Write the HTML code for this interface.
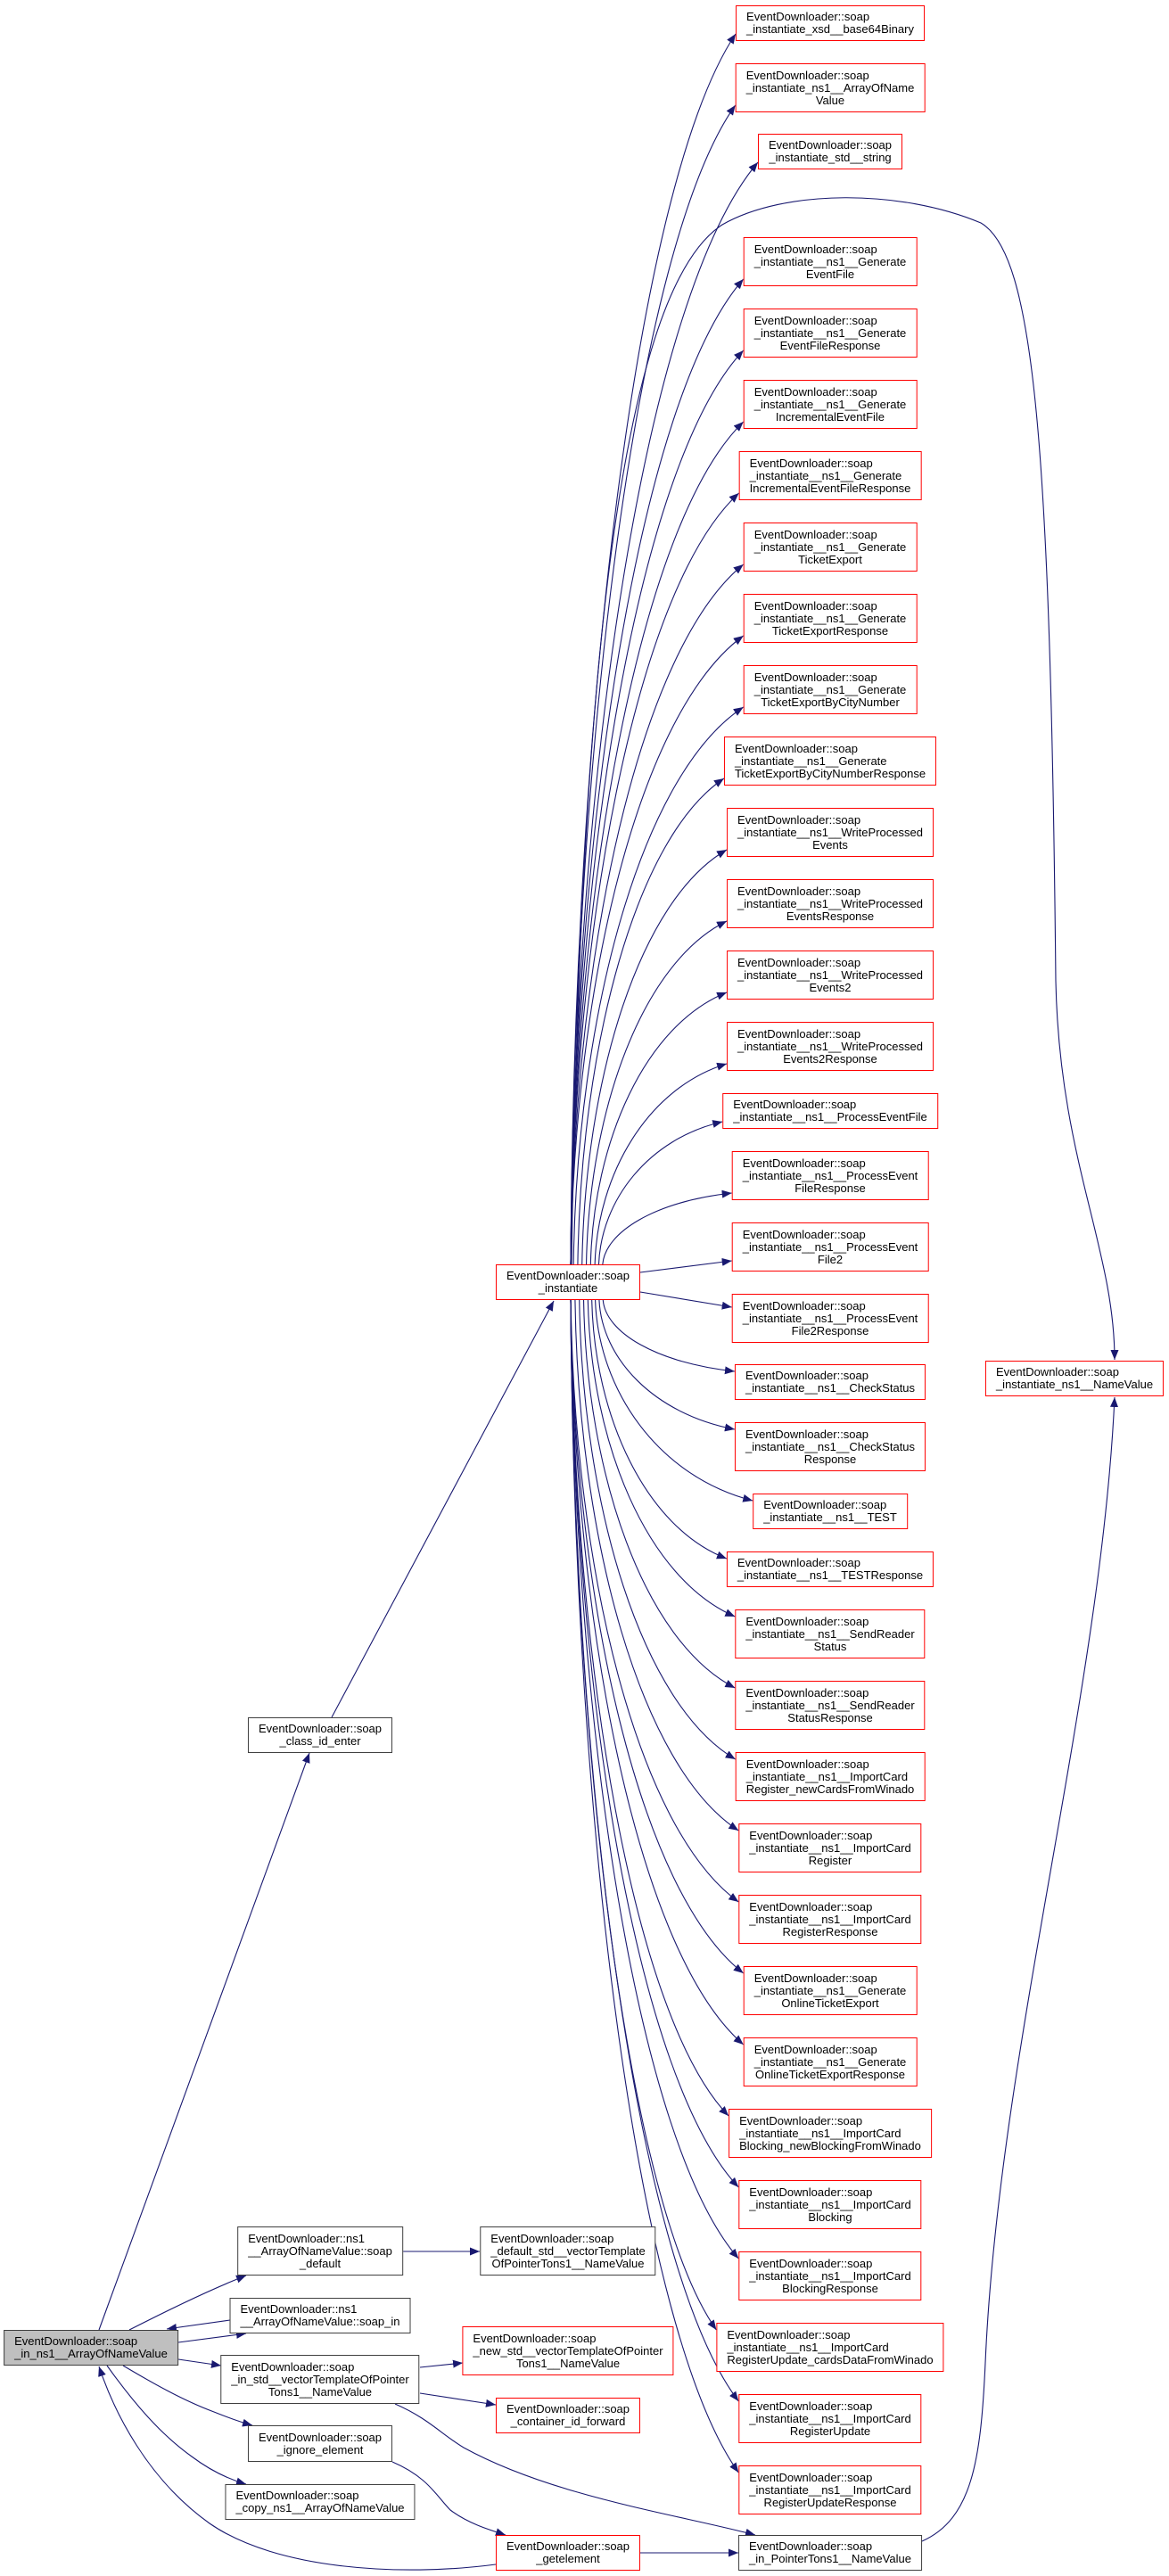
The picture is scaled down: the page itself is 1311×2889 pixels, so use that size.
<!DOCTYPE html>
<html><head><meta charset="utf-8">
<style>
html,body{margin:0;padding:0;background:#fff;}
body{width:1311px;height:2889px;position:relative;overflow:hidden;font-family:"Liberation Sans",Arial,sans-serif;font-size:13px;color:#000;}
.n{position:absolute;box-sizing:border-box;border:1px solid #ff0000;background:#fff;display:flex;align-items:center;justify-content:center;padding:0 11px;white-space:nowrap;transform:translateX(-50%);line-height:14px;}
.k{border-color:#404040;}
.g{background:#bfbfbf;border-color:#404040;}
.t{display:inline-block;text-align:left;}
.t div:last-child{text-align:center;}
svg{position:absolute;left:0;top:0;}
</style></head><body>
<svg id="sv" width="1311" height="2889" viewBox="0 0 1311 2889">
<defs><marker id="a" markerUnits="userSpaceOnUse" markerWidth="12" markerHeight="10" refX="11" refY="4.5" orient="auto"><path d="M0,0 L11,4.5 L0,9 z" fill="#191970"/></marker></defs>
<g id="eg" fill="none" stroke="#191970" stroke-width="1.1"></g>
</svg>

<!-- right column -->
<div class="n r" id="r1" style="left:931px;top:6px;height:40px"><div class="t"><div>EventDownloader::soap</div><div>_instantiate_xsd__base64Binary</div></div></div>
<div class="n r" id="r2" style="left:931px;top:71px;height:55px"><div class="t"><div>EventDownloader::soap</div><div>_instantiate_ns1__ArrayOfName</div><div>Value</div></div></div>
<div class="n r" id="r3" style="left:931px;top:150px;height:40px"><div class="t"><div>EventDownloader::soap</div><div>_instantiate_std__string</div></div></div>
<div class="n r" id="r4" style="left:931px;top:266px;height:55px"><div class="t"><div>EventDownloader::soap</div><div>_instantiate__ns1__Generate</div><div>EventFile</div></div></div>
<div class="n r" id="r5" style="left:931px;top:346px;height:55px"><div class="t"><div>EventDownloader::soap</div><div>_instantiate__ns1__Generate</div><div>EventFileResponse</div></div></div>
<div class="n r" id="r6" style="left:931px;top:426px;height:55px"><div class="t"><div>EventDownloader::soap</div><div>_instantiate__ns1__Generate</div><div>IncrementalEventFile</div></div></div>
<div class="n r" id="r7" style="left:931px;top:506px;height:55px"><div class="t"><div>EventDownloader::soap</div><div>_instantiate__ns1__Generate</div><div>IncrementalEventFileResponse</div></div></div>
<div class="n r" id="r8" style="left:931px;top:586px;height:55px"><div class="t"><div>EventDownloader::soap</div><div>_instantiate__ns1__Generate</div><div>TicketExport</div></div></div>
<div class="n r" id="r9" style="left:931px;top:666px;height:55px"><div class="t"><div>EventDownloader::soap</div><div>_instantiate__ns1__Generate</div><div>TicketExportResponse</div></div></div>
<div class="n r" id="r10" style="left:931px;top:746px;height:55px"><div class="t"><div>EventDownloader::soap</div><div>_instantiate__ns1__Generate</div><div>TicketExportByCityNumber</div></div></div>
<div class="n r" id="r11" style="left:931px;top:826px;height:55px"><div class="t"><div>EventDownloader::soap</div><div>_instantiate__ns1__Generate</div><div>TicketExportByCityNumberResponse</div></div></div>
<div class="n r" id="r12" style="left:931px;top:906px;height:55px"><div class="t"><div>EventDownloader::soap</div><div>_instantiate__ns1__WriteProcessed</div><div>Events</div></div></div>
<div class="n r" id="r13" style="left:931px;top:986px;height:55px"><div class="t"><div>EventDownloader::soap</div><div>_instantiate__ns1__WriteProcessed</div><div>EventsResponse</div></div></div>
<div class="n r" id="r14" style="left:931px;top:1066px;height:55px"><div class="t"><div>EventDownloader::soap</div><div>_instantiate__ns1__WriteProcessed</div><div>Events2</div></div></div>
<div class="n r" id="r15" style="left:931px;top:1146px;height:55px"><div class="t"><div>EventDownloader::soap</div><div>_instantiate__ns1__WriteProcessed</div><div>Events2Response</div></div></div>
<div class="n r" id="r16" style="left:931px;top:1226px;height:40px"><div class="t"><div>EventDownloader::soap</div><div>_instantiate__ns1__ProcessEventFile</div></div></div>
<div class="n r" id="r17" style="left:931px;top:1291px;height:55px"><div class="t"><div>EventDownloader::soap</div><div>_instantiate__ns1__ProcessEvent</div><div>FileResponse</div></div></div>
<div class="n r" id="r18" style="left:931px;top:1371px;height:55px"><div class="t"><div>EventDownloader::soap</div><div>_instantiate__ns1__ProcessEvent</div><div>File2</div></div></div>
<div class="n r" id="r19" style="left:931px;top:1451px;height:55px"><div class="t"><div>EventDownloader::soap</div><div>_instantiate__ns1__ProcessEvent</div><div>File2Response</div></div></div>
<div class="n r" id="r20" style="left:931px;top:1530px;height:40px"><div class="t"><div>EventDownloader::soap</div><div>_instantiate__ns1__CheckStatus</div></div></div>
<div class="n r" id="r21" style="left:931px;top:1595px;height:55px"><div class="t"><div>EventDownloader::soap</div><div>_instantiate__ns1__CheckStatus</div><div>Response</div></div></div>
<div class="n r" id="r22" style="left:931px;top:1675px;height:40px"><div class="t"><div>EventDownloader::soap</div><div>_instantiate__ns1__TEST</div></div></div>
<div class="n r" id="r23" style="left:931px;top:1740px;height:40px"><div class="t"><div>EventDownloader::soap</div><div>_instantiate__ns1__TESTResponse</div></div></div>
<div class="n r" id="r24" style="left:931px;top:1805px;height:55px"><div class="t"><div>EventDownloader::soap</div><div>_instantiate__ns1__SendReader</div><div>Status</div></div></div>
<div class="n r" id="r25" style="left:931px;top:1885px;height:55px"><div class="t"><div>EventDownloader::soap</div><div>_instantiate__ns1__SendReader</div><div>StatusResponse</div></div></div>
<div class="n r" id="r26" style="left:931px;top:1965px;height:55px"><div class="t"><div>EventDownloader::soap</div><div>_instantiate__ns1__ImportCard</div><div>Register_newCardsFromWinado</div></div></div>
<div class="n r" id="r27" style="left:931px;top:2045px;height:55px"><div class="t"><div>EventDownloader::soap</div><div>_instantiate__ns1__ImportCard</div><div>Register</div></div></div>
<div class="n r" id="r28" style="left:931px;top:2125px;height:55px"><div class="t"><div>EventDownloader::soap</div><div>_instantiate__ns1__ImportCard</div><div>RegisterResponse</div></div></div>
<div class="n r" id="r29" style="left:931px;top:2205px;height:55px"><div class="t"><div>EventDownloader::soap</div><div>_instantiate__ns1__Generate</div><div>OnlineTicketExport</div></div></div>
<div class="n r" id="r30" style="left:931px;top:2285px;height:55px"><div class="t"><div>EventDownloader::soap</div><div>_instantiate__ns1__Generate</div><div>OnlineTicketExportResponse</div></div></div>
<div class="n r" id="r31" style="left:931px;top:2365px;height:55px"><div class="t"><div>EventDownloader::soap</div><div>_instantiate__ns1__ImportCard</div><div>Blocking_newBlockingFromWinado</div></div></div>
<div class="n r" id="r32" style="left:931px;top:2445px;height:55px"><div class="t"><div>EventDownloader::soap</div><div>_instantiate__ns1__ImportCard</div><div>Blocking</div></div></div>
<div class="n r" id="r33" style="left:931px;top:2525px;height:55px"><div class="t"><div>EventDownloader::soap</div><div>_instantiate__ns1__ImportCard</div><div>BlockingResponse</div></div></div>
<div class="n r" id="r34" style="left:931px;top:2605px;height:55px"><div class="t"><div>EventDownloader::soap</div><div>_instantiate__ns1__ImportCard</div><div>RegisterUpdate_cardsDataFromWinado</div></div></div>
<div class="n r" id="r35" style="left:931px;top:2685px;height:55px"><div class="t"><div>EventDownloader::soap</div><div>_instantiate__ns1__ImportCard</div><div>RegisterUpdate</div></div></div>
<div class="n r" id="r36" style="left:931px;top:2765px;height:55px"><div class="t"><div>EventDownloader::soap</div><div>_instantiate__ns1__ImportCard</div><div>RegisterUpdateResponse</div></div></div>

<div class="n" id="nv" style="left:1205px;top:1526px;height:40px"><div class="t"><div>EventDownloader::soap</div><div>_instantiate_ns1__NameValue</div></div></div>
<div class="n" id="inst" style="left:637px;top:1418px;height:40px"><div class="t" style="text-align:center"><div>EventDownloader::soap</div><div>_instantiate</div></div></div>
<div class="n k" id="cls" style="left:359px;top:1926px;height:40px"><div class="t" style="text-align:center"><div>EventDownloader::soap</div><div>_class_id_enter</div></div></div>

<div class="n k" id="sd" style="left:359px;top:2497px;height:55px"><div class="t"><div>EventDownloader::ns1</div><div>__ArrayOfNameValue::soap</div><div>_default</div></div></div>
<div class="n k" id="si" style="left:359px;top:2577px;height:40px"><div class="t"><div>EventDownloader::ns1</div><div>__ArrayOfNameValue::soap_in</div></div></div>
<div class="n g" id="main" style="left:102px;top:2613px;height:40px"><div class="t"><div>EventDownloader::soap</div><div>_in_ns1__ArrayOfNameValue</div></div></div>
<div class="n k" id="isv" style="left:359px;top:2641px;height:55px"><div class="t"><div>EventDownloader::soap</div><div>_in_std__vectorTemplateOfPointer</div><div>Tons1__NameValue</div></div></div>
<div class="n k" id="ig" style="left:359px;top:2720px;height:41px"><div class="t" style="text-align:center"><div>EventDownloader::soap</div><div>_ignore_element</div></div></div>
<div class="n k" id="cp" style="left:359px;top:2786px;height:40px"><div class="t"><div>EventDownloader::soap</div><div>_copy_ns1__ArrayOfNameValue</div></div></div>

<div class="n k" id="dsv" style="left:637px;top:2497px;height:55px"><div class="t"><div>EventDownloader::soap</div><div>_default_std__vectorTemplate</div><div>OfPointerTons1__NameValue</div></div></div>
<div class="n" id="nsv" style="left:637px;top:2609px;height:55px"><div class="t"><div>EventDownloader::soap</div><div>_new_std__vectorTemplateOfPointer</div><div>Tons1__NameValue</div></div></div>
<div class="n" id="cif" style="left:637px;top:2689px;height:40px"><div class="t"><div>EventDownloader::soap</div><div>_container_id_forward</div></div></div>
<div class="n" id="ge" style="left:637px;top:2843px;height:40px"><div class="t" style="text-align:center"><div>EventDownloader::soap</div><div>_getelement</div></div></div>
<div class="n k" id="ip" style="left:931px;top:2843px;height:40px"><div class="t"><div>EventDownloader::soap</div><div>_in_PointerTons1__NameValue</div></div></div>

<script>
(function(){
var g=document.getElementById('eg');
function P(d){var p=document.createElementNS('http://www.w3.org/2000/svg','path');p.setAttribute('d',d);p.setAttribute('marker-end','url(#a)');g.appendChild(p);}
var SY1=1418,SY2=1458;
for(var i=1;i<=36;i++){
 var r=document.getElementById('r'+i).getBoundingClientRect();
 var cy=(r.top+r.bottom)/2, lx=r.left;
 if(i==18){P('M718,1427 L'+lx+','+(r.top+43));continue;}
 if(i==19){P('M718,1449 L'+lx+','+(r.top+15));continue;}
 var above=cy<1438;
 var dy=Math.abs(cy-1438);
 var off=Math.max(2,45-dy*0.06);
 var sx=638+off, sy=above?SY1:SY2;
 var ex=lx, ey=above?r.bottom-8:r.top+8;
 var ddx=ex-sx, ddy=ey-sy;
 var c1x=sx+ddx*0.02, c1y=sy+ddy*0.45;
 var c2x=sx+ddx*0.4, c2y=ey-ddy*0.12;
 P('M'+sx+','+sy+' C'+c1x+','+c1y+' '+c2x+','+c2y+' '+ex+','+ey);
}
/* instantiate -> NameValue big arc */
P('M641,1418 C650,800 690,330 810,252 C880,212 1010,212 1100,250 C1160,285 1178,500 1184,1100 C1188,1300 1250,1400 1250,1525');
/* in_Pointer -> NameValue */
P('M1034,2850 C1090,2825 1100,2760 1105,2650 C1120,2300 1235,1900 1250,1567');
/* main -> class_id_enter */
P('M111,2613 L347,1966');
/* class -> instantiate */
P('M372,1926 L621,1459');
/* main -> soap_default */
P('M145,2613 C190,2590 235,2568 276,2552');
/* soap_default -> default_std */
P('M452,2525 L538,2525');
/* soap_in -> main */
P('M258,2602 L187,2612');
/* main -> soap_in */
P('M200,2627 L276,2617');
/* main -> in_std */
P('M200,2646 L248,2653');
/* main -> ignore */
P('M138,2653 C170,2672 205,2692 240,2705 C255,2711 268,2716 283,2720');
/* main -> copy */
P('M120,2653 C150,2695 180,2730 215,2755 C235,2770 255,2780 276,2786');
/* getelement -> main */
P('M556,2876 C450,2890 310,2882 235,2830 C165,2780 128,2705 111,2654');
/* ignore -> getelement */
P('M440,2761 C480,2778 490,2800 505,2815 C525,2830 548,2837 567,2843');
/* in_std -> new_std */
P('M471,2655 L519,2650');
/* in_std -> container */
P('M471,2684 L556,2697');
/* in_std -> in_Pointer */
P('M443,2696 C480,2712 495,2730 520,2745 C620,2800 760,2820 847,2843');
/* getelement -> in_Pointer */
P('M718,2863 L828,2863');
})();
</script>
</body></html>
